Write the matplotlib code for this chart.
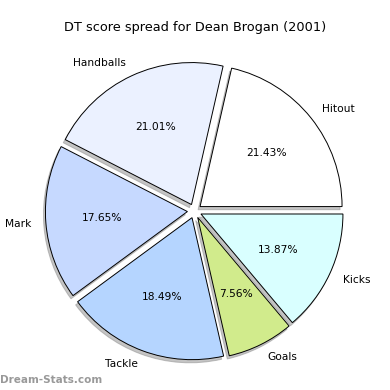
import matplotlib
matplotlib.use("Agg")
import matplotlib.pyplot as plt

labels = ["Hitout", "Handballs", "Mark", "Tackle", "Goals", "Kicks"]
values = [51, 50, 42, 44, 18, 33]
colors = ["#ffffff", "#ebf1ff", "#c6d9ff", "#b5d5ff", "#d1eb8c", "#d9ffff"]

R = 142.0  # pixels per data unit
cx, cy = 194.5, 390 - 211.0

fig = plt.figure(figsize=(3.9, 3.9), dpi=100)
ax = fig.add_axes([0, 0, 1, 1])
ax.pie(values, labels=labels, colors=colors, explode=[0.05]*len(values),
       autopct="%.2f%%",
       shadow=dict(ox=-0.01, oy=-0.016, facecolor="#8a8a8a", edgecolor="#8a8a8a"),
       startangle=0,
       wedgeprops=dict(edgecolor="black", linewidth=0.7),
       textprops=dict(fontsize=7.7))
ax.set_aspect("equal")
ax.set_xlim(-cx / R, (390 - cx) / R)
ax.set_ylim(-cy / R, (390 - cy) / R)
ax.axis("off")
fig.text(0.5, 1 - 27/390, "DT score spread for Dean Brogan (2001)", ha="center", va="center", fontsize=9.3)
fig.text(0.0, 10/390, "Dream-Stats.com", ha="left", va="center", fontsize=7.5, color="#999999", weight="bold")
fig.savefig("out.png", dpi=100)
